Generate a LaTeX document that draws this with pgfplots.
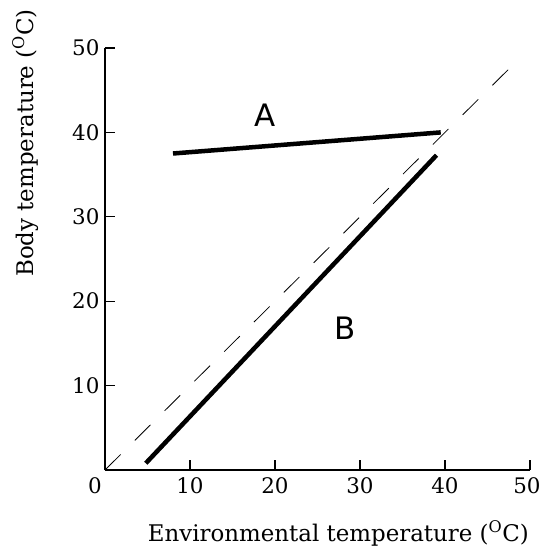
\documentclass[border=0pt]{standalone}
\usepackage{fontspec}
\setmainfont{DejaVu Serif}
\newfontfamily\labfont{DejaVu Sans}
\usepackage{pgfplots}
\pgfplotsset{compat=1.18}

\begin{document}
\begin{tikzpicture}
\begin{axis}[
    scale only axis,
    width=425bp, height=422bp,
    xmin=0, xmax=50, ymin=0, ymax=50,
    axis lines*=left,
    axis line style={line width=1.5bp},
    xtick={10,20,30,40,50},
    xticklabels={10,20,30,40,{\hspace*{-6bp}50}},
    ytick={10,20,30,40,50},
    extra x ticks={0},
    extra x tick labels={0},
    extra x tick style={major tick length=0pt, xticklabel style={xshift=-10bp}},
    tick align=inside,
    major tick length=10bp,
    tick style={line width=1.2bp, black},
    /pgf/number format/assume math mode=true,
    ticklabel style={font=\fontsize{21.5}{21.5}\selectfont},
    xticklabel style={yshift=-4bp},
    yticklabel style={xshift=-2bp},
    xlabel={Environmental temperature (\textsuperscript{O}C)},
    ylabel={Body temperature (\textsuperscript{O}C)},
    label style={font=\fontsize{23}{23}\selectfont},
    xlabel style={at={(axis description cs:0.549,0)}, anchor=center, yshift=-63bp},
    ylabel style={at={(axis description cs:-0.188,0.775)}, anchor=center},
    clip=false,
]
% dashed line: body = environment
\addplot[black, line width=0.8bp, dash pattern=on 22bp off 20bp] coordinates {(0,0) (48,48)};
% A: regulator
\addplot[black, line width=4.5bp] coordinates {(8,37.5) (39.5,40)};
% B: conformer
\addplot[black, line width=4.5bp] coordinates {(4.8,0.8) (39,37.3)};
\node[font=\labfont\fontsize{31}{31}\selectfont] at (axis cs:18.8,42) {A};
\node[font=\labfont\fontsize{31}{31}\selectfont] at (axis cs:28.2,16.8) {B};
\end{axis}
\pgfresetboundingbox
\path[use as bounding box] ([shift={(-105bp,-80bp)}]current axis.south west) rectangle ++(542bp,550bp);
\end{tikzpicture}
\end{document}
